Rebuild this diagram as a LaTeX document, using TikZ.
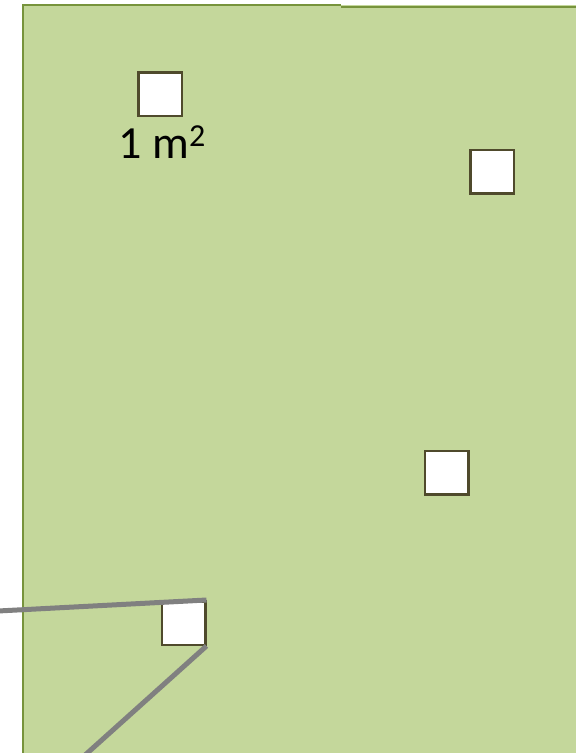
\documentclass[tikz,border=0pt]{standalone}
\usepackage{fontspec}
\setmainfont{Carlito}
\usepackage{xcolor}
\definecolor{plotgreen}{HTML}{C4D79B}
\definecolor{plotedge}{HTML}{77933C}
\definecolor{quadedge}{HTML}{4F4A2C}
\definecolor{linegray}{HTML}{808080}

\begin{document}
\begin{tikzpicture}[x=1pt,y=-1pt,
    quad/.style={draw=quadedge, line width=2.5pt, fill=white, minimum size=43.5pt, inner sep=0pt},
    transect/.style={draw=linegray, line width=5pt}]
      % \draw[help lines, gray!50, very thin] (0,0) grid (576,753);
      \useasboundingbox (0,0) rectangle (576,753);

      % field
      \fill[plotgreen] (23,5) rectangle (580,760);
      \draw[plotedge, line width=2.5pt] (23,760) -- (23,5) -- (341,5);
      \draw[plotedge, line width=2pt] (341,6.5) -- (580,6.5);

      % sample squares
      \node[quad] (q1) at (160,94) {};
      \node at (162,142) (lbl) {\fontsize{46}{50}\selectfont 1 m\raisebox{0.55ex}{\fontsize{32}{34}\selectfont 2}};
      \node[quad] (q2) at (492,171.5) {};
      \node[quad] (q3) at (446.5,472.5) {};
      \node[quad] (q4) at (183.5,623) {};

      % lines to the last square
      \coordinate (w) at (-2,611);
      \coordinate (s) at (84,756);
      \draw[transect] (w) -- (q4.north east);
      \draw[transect] (q4.south east) -- (s);
\end{tikzpicture}
\end{document}
